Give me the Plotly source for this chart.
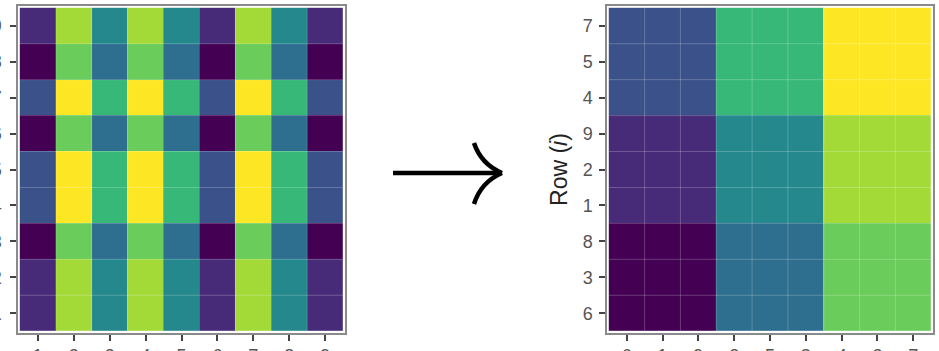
import plotly.graph_objects as go
from plotly.subplots import make_subplots

# ---- data ----
row_labels = ["1", "2", "3", "4", "5", "6", "7", "8", "9"]   # bottom -> top
col_labels = ["1", "2", "3", "4", "5", "6", "7", "8", "9"]   # left -> right

# values (0..1, viridis) for left matrix, row 1 first (bottom)
z_left = [
    [0.12, 0.86, 0.47, 0.86, 0.47, 0.12, 0.86, 0.47, 0.12],  # row 1
    [0.12, 0.86, 0.47, 0.86, 0.47, 0.12, 0.86, 0.47, 0.12],  # row 2
    [0.00, 0.77, 0.36, 0.77, 0.36, 0.00, 0.77, 0.36, 0.00],  # row 3
    [0.25, 1.00, 0.67, 1.00, 0.67, 0.25, 1.00, 0.67, 0.25],  # row 4
    [0.25, 1.00, 0.67, 1.00, 0.67, 0.25, 1.00, 0.67, 0.25],  # row 5
    [0.00, 0.77, 0.36, 0.77, 0.36, 0.00, 0.77, 0.36, 0.00],  # row 6
    [0.25, 1.00, 0.67, 1.00, 0.67, 0.25, 1.00, 0.67, 0.25],  # row 7
    [0.00, 0.77, 0.36, 0.77, 0.36, 0.00, 0.77, 0.36, 0.00],  # row 8
    [0.12, 0.86, 0.47, 0.86, 0.47, 0.12, 0.86, 0.47, 0.12],  # row 9
]

# reordered display (right panel)
row_order = ["6", "3", "8", "1", "2", "9", "4", "5", "7"]   # bottom -> top
col_order = ["6", "1", "9", "3", "5", "8", "4", "2", "7"]   # left -> right

z_right = [[z_left[row_labels.index(r)][col_labels.index(c)] for c in col_order]
           for r in row_order]

# ---- layout constants ----
W, H = 939, 351
ML, MR, MT, MB = 18, 6, 6, 18
PW, PH = W - ML - MR, H - MT - MB
left_dom = [0.0, (345 - ML) / PW]
right_dom = [(607 - ML) / PW, 1.0]

FONT = "Liberation Sans, Arial, sans-serif"

fig = make_subplots(rows=1, cols=2, horizontal_spacing=0.0)

fig.add_trace(go.Heatmap(z=z_left, x=col_labels, y=row_labels, colorscale="Viridis",
                         zmin=0, zmax=1, showscale=False, hoverinfo="skip"), row=1, col=1)
fig.add_trace(go.Heatmap(z=z_right, x=col_order, y=row_order, colorscale="Viridis",
                         zmin=0, zmax=1, showscale=False, hoverinfo="skip"), row=1, col=2)

pad = 0.05
axis_common = dict(
    showgrid=False, zeroline=False, showline=True, mirror=True,
    linecolor="#8a8a8a", linewidth=1.5, automargin=False,
    ticks="outside", ticklen=6, tickwidth=1.5, tickcolor="#444",
    tickfont=dict(family=FONT, size=18, color="#555"),
)
fig.update_xaxes(**axis_common)
fig.update_yaxes(**axis_common)
fig.update_layout(
    xaxis=dict(domain=left_dom, range=[-0.5 - pad, len(col_labels) - 0.5 + pad]),
    yaxis=dict(range=[-0.5 - pad, len(row_labels) - 0.5 + pad], ticklabelstandoff=5),
    xaxis2=dict(domain=right_dom, range=[-0.5 - pad, len(col_order) - 0.5 + pad]),
    yaxis2=dict(range=[-0.5 - pad, len(row_order) - 0.5 + pad], ticklabelstandoff=3,
                title=dict(text="Row (<i>i</i>)", font=dict(family=FONT, size=23, color="#222"),
                           standoff=9)),
)

# faint cell borders
shapes = []
for xr, yr, nx, ny in [("x", "y", len(col_labels), len(row_labels)),
                       ("x2", "y2", len(col_order), len(row_order))]:
    for i in range(nx - 1):
        shapes.append(dict(type="line", xref=xr, yref=yr, x0=i + 0.5, x1=i + 0.5,
                           y0=-0.5, y1=ny - 0.5, line=dict(color="rgba(255,255,255,0.22)", width=1)))
    for j in range(ny - 1):
        shapes.append(dict(type="line", xref=xr, yref=yr, y0=j + 0.5, y1=j + 0.5,
                           x0=-0.5, x1=nx - 0.5, line=dict(color="rgba(255,255,255,0.22)", width=1)))

# arrow (decoration) in pixel -> paper coords
def px(x):
    return (x - ML) / PW

def py(y):
    return (H - MB - y) / PH

arrow_line = dict(color="black", width=4.5)
shapes.append(dict(type="line", xref="paper", yref="paper",
                   x0=px(393), y0=py(173), x1=px(500), y1=py(173), line=arrow_line))
shapes.append(dict(type="path", xref="paper", yref="paper", line=arrow_line,
                   path=f"M {px(474)} {py(143)} Q {px(481)} {py(164)} {px(502)} {py(173)}"))
shapes.append(dict(type="path", xref="paper", yref="paper", line=arrow_line,
                   path=f"M {px(474)} {py(204)} Q {px(481)} {py(182)} {px(502)} {py(173)}"))

fig.update_layout(
    shapes=shapes,
    width=W, height=H,
    margin=dict(l=ML, r=MR, t=MT, b=MB),
    paper_bgcolor="white", plot_bgcolor="white",
    showlegend=False,
)

fig.write_html("out.html")
